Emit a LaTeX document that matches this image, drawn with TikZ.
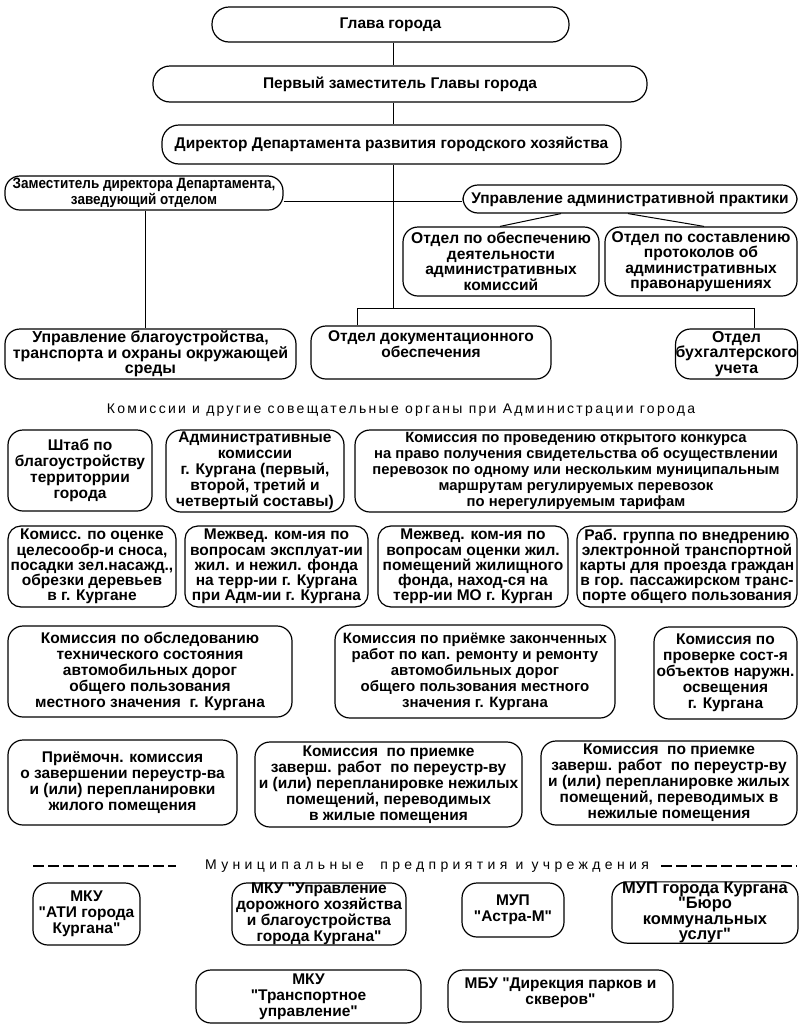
\documentclass[tikz,border=0pt]{standalone}
\usepackage{fontspec}
\setmainfont{Liberation Sans}[Ligatures=TeXOff]
\newfontfamily\narrowf{Liberation Sans}[FakeStretch=0.9,Ligatures=TeXOff]
\newfontfamily\spacedf{Liberation Sans}[LetterSpace=16.5,Ligatures=TeXOff]
\newfontfamily\spacedg{Liberation Sans}[LetterSpace=31,Ligatures=TeXOff]
\newcommand\Bx[7][]{%
  \node[box,minimum width={(#5-#3)*1pt},minimum height={(#6-#4)*1pt},#1] (#2) at ({(#3+#5)/2},{(#4+#6)/2}) {#7};}
\begin{document}
\begin{tikzpicture}[x=1pt,y=-1pt,
  box/.style={draw, line width=1.2pt, rounded corners=15pt, align=center, inner sep=0pt,
    font=\bfseries\fontsize{15.5}{16}\selectfont},
  topbox/.style={rounded corners=17pt, font=\bfseries\fontsize{15.5}{16}\selectfont},
  rowtwo/.style={rounded corners=13pt, font=\bfseries\fontsize{15.5}{15.2}\selectfont},
  bigger/.style={font=\bfseries\fontsize{15.9}{15.5}\selectfont},
  ln/.style={line width=1pt},
  dsh/.style={line width=1.1pt, dash pattern=on 11pt off 4pt},
  hdr/.style={inner sep=0pt, font=\spacedf\fontsize{14}{16}\selectfont},
  hdrb/.style={inner sep=0pt, font=\spacedg\fontsize{14}{16}\selectfont}]
\useasboundingbox (0,0) rectangle (800,1031);
% top
\Bx[topbox]{glava}{212}{7}{569}{42}{Глава города}
\Bx[topbox]{perv}{153}{66}{647}{102}{Первый заместитель Главы города}
\Bx[topbox]{dir}{162}{125}{621}{164}{Директор Департамента развития городского хозяйства}
\Bx[font=\narrowf\bfseries\fontsize{15}{16}\selectfont]{zam}{5}{176}{283}{210}{Заместитель директора Департамента,\\заведующий отделом}
\Bx{uap}{463}{185}{797}{213}{Управление административной практики}
\Bx[font=\bfseries\fontsize{15.6}{15.5}\selectfont]{ob}{403}{227}{599}{296}{Отдел по обеспечению\\деятельности\\административных\\комиссий}
\Bx[font=\bfseries\fontsize{15.6}{15.5}\selectfont]{sost}{605}{227}{797}{296}{Отдел по составлению\\протоколов об\\административных\\правонарушениях}
\Bx[bigger]{ub}{5}{329}{296}{379}{Управление благоустройства,\\транспорта и охраны окружающей\\среды}
\Bx{doc}{311}{326}{551}{379}{Отдел документационного\\обеспечения\\\mbox{}}
\Bx[bigger]{buh}{676}{329}{797}{379}{Отдел\\бухгалтерского\\учета}
% connectors
\coordinate (vx) at (393,0);
\coordinate (bar) at (393,308);
\coordinate (docx) at (357,0);
\coordinate (buhx) at (754,0);
\coordinate (hy) at (0,201);
\coordinate (zx) at (145,0);
\coordinate (a1) at (561,0);
\coordinate (a2) at (500,0);
\coordinate (b1) at (628,0);
\coordinate (b2) at (704,0);
\draw[ln] (glava.south -| vx) -- (perv.north -| vx);
\draw[ln] (perv.south -| vx) -- (dir.north -| vx);
\draw[ln] (dir.south -| vx) -- (bar);
\draw[ln] (doc.north -| docx) -- (docx |- bar) -- (buhx |- bar) -- (buh.north -| buhx);
\draw[ln] (zam.east |- hy) -- (uap.west |- hy);
\draw[ln] (zam.south -| zx) -- (ub.north -| zx);
\draw[ln] (uap.south -| a1) -- (ob.north -| a2);
\draw[ln] (uap.south -| b1) -- (sost.north -| b2);
% header 1
\node[hdr] (h1) at (401,410) {Комиссии и другие совещательные органы при Администрации города};
% row 1
\Bx{shtab}{8}{430}{152}{511}{Штаб по\\благоустройству\\территоррии\\города}
\Bx{adm}{166}{430}{344}{512}{Административные\\комиссии\\г. Кургана (первый,\\второй, третий и\\четвертый составы)}
\Bx[font=\bfseries\fontsize{14.8}{16}\selectfont]{konk}{355}{430}{797}{512}{Комиссия по проведению открытого конкурса\\на право получения свидетельства об осуществлении\\перевозок по одному или нескольким муниципальным\\маршрутам регулируемых перевозок\\по нерегулируемым тарифам}
% row 2
\Bx[rowtwo]{snos}{8}{526}{176}{607}{Комисс. по оценке\\целесообр-и сноса,\\посадки зел.насажд.,\\обрезки деревьев\\в г. Кургане}
\Bx[rowtwo]{mv1}{185}{526}{368}{607}{Межвед. ком-ия по\\вопросам эксплуат-ии\\жил. и нежил. фонда\\на терр-ии г. Кургана\\при Адм-ии г. Кургана}
\Bx[rowtwo]{mv2}{378}{526}{568}{607}{Межвед. ком-ия по\\вопросам оценки жил.\\помещений жилищного\\фонда, наход-ся на\\терр-ии МО г. Курган}
\Bx[rowtwo]{rab}{577}{526}{797}{607}{Раб. группа по внедрению\\электронной транспортной\\карты для проезда граждан\\в гор. пассажирском транс-\\порте общего пользования}
% row 3
\Bx{obsl}{8}{626}{292}{717}{Комиссия по обследованию\\технического состояния\\автомобильных дорог\\общего пользования\\местного значения~~г. Кургана}
\Bx[font=\bfseries\fontsize{15}{16}\selectfont]{priem}{335}{625}{615}{718}{Комиссия по приёмке законченных\\работ по кап. ремонту и ремонту\\автомобильных дорог\\общего пользования местного\\значения г. Кургана}
\Bx{osv}{654}{627}{797}{719}{Комиссия по\\проверке сост-я\\объектов наружн.\\освещения\\г. Кургана}
% row 4
\Bx{priemoch}{8}{740}{237}{825}{Приёмочн. комиссия\\о завершении переустр-ва\\и (или) перепланировки\\жилого помещения}
\Bx{nezh}{255}{742}{522}{827}{Комиссия~~по приемке\\заверш. работ~~по переустр-ву\\и (или) перепланировке нежилых\\помещений, переводимых\\в жилые помещения}
\Bx{zhil}{541}{741}{797}{825}{Комиссия~~по приемке\\заверш. работ~~по переустр-ву\\и (или) перепланировке жилых\\помещений, переводимых в\\нежилые помещения}
% header 2
\coordinate (d1) at (33,866);
\coordinate (d2) at (176,866);
\coordinate (d3) at (661,866);
\coordinate (d4) at (797,866);
\draw[dsh] (d1) -- (d2);
\draw[dsh] (d3) -- (d4);
\node[hdrb] (h2) at (427,866) {Муниципальные~~предприятия и учреждения};
% bottom
\Bx{ati}{33}{883}{140}{945}{МКУ\\"АТИ города\\Кургана"}
\Bx{udh}{232}{883}{406}{945}{МКУ "Управление\\дорожного хозяйства\\и благоустройства\\города Кургана"}
\Bx{astra}{462}{883}{564}{937}{МУП\\"Астра-М"}
\Bx[font=\bfseries\fontsize{16.5}{15.5}\selectfont]{bku}{612}{882}{798}{943}{МУП города Кургана\\"Бюро\\коммунальных\\услуг"}
\Bx{tu}{196}{970}{421}{1023}{МКУ\\"Транспортное\\управление"}
\Bx{mbu}{448}{970}{673}{1022}{МБУ "Дирекция парков и\\скверов"\\[-6pt]\mbox{}}
\end{tikzpicture}
\end{document}
